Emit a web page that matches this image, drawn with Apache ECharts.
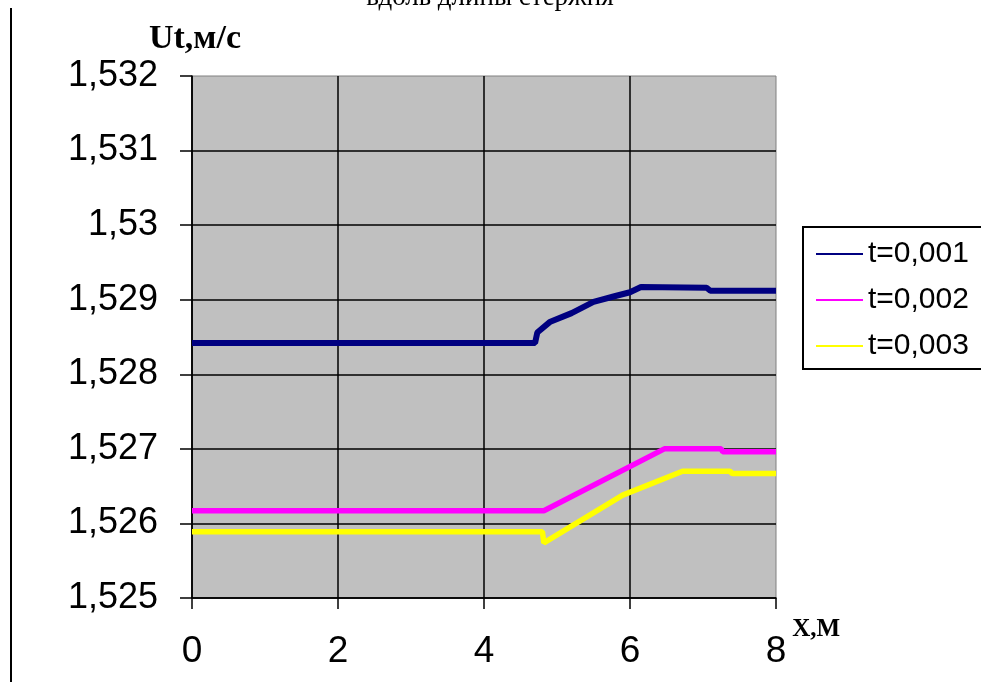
<!DOCTYPE html>
<html>
<head>
<meta charset="utf-8">
<script src="https://cdn.jsdelivr.net/npm/echarts@6/dist/echarts.min.js"></script>
<style>
  html, body { margin: 0; padding: 0; background: #fff; }
  #chart { width: 981px; height: 682px; }
</style>
</head>
<body>
<div id="chart"></div>
<script>
// values
const seriesNames = ['t=0,001', 't=0,002', 't=0,003'];
const xTicks = [0, 2, 4, 6, 8];
const yTicks = [1.525, 1.526, 1.527, 1.528, 1.529, 1.53, 1.531, 1.532];

const xBlue = [0, 4.70, 4.73, 4.9, 5.2, 5.5, 5.8, 6.0, 6.15, 7.05, 7.1, 8];
const yBlue = [1.52842, 1.52842, 1.52856, 1.52870, 1.52882, 1.52897, 1.52905, 1.52910, 1.52917, 1.52916, 1.52912, 1.52912];

const xPink = [0, 4.82, 6.47, 7.25, 7.27, 8];
const yPink = [1.52617, 1.52617, 1.52700, 1.52700, 1.52696, 1.52696];

const xYellow = [0, 4.80, 4.82, 5.9, 6.72, 7.37, 7.4, 8];
const yYellow = [1.52589, 1.52589, 1.52574, 1.52638, 1.52670, 1.52670, 1.52667, 1.52667];

const colors = ['#000080', '#FF00FF', '#FFFF00'];

const pairs = (xs, ys) => xs.map((x, i) => [x, ys[i]]);
const fmt = (v) => parseFloat(v.toFixed(3)).toString().replace('.', ',');

const chart = echarts.init(document.getElementById('chart'));

chart.setOption({
  animation: false,
  backgroundColor: '#fff',
  graphic: [
    {
      type: 'line',
      shape: { x1: 11, y1: 8, x2: 11, y2: 682 },
      style: { stroke: '#000', lineWidth: 2 }
    },
    {
      type: 'text',
      x: 490,
      y: 11,
      style: {
        text: 'вдоль длины стержня',
        font: '27px "Liberation Serif"',
        fill: '#000',
        align: 'center',
        verticalAlign: 'bottom'
      }
    }
  ],
  grid: {
    left: 192,
    right: 205,
    top: 76,
    bottom: 84,
    show: true,
    backgroundColor: '#C0C0C0',
    borderColor: '#808080',
    borderWidth: 1
  },
  legend: {
    orient: 'vertical',
    left: 803,
    top: 227,
    itemWidth: 47,
    itemHeight: 14,
    itemGap: 16,
    padding: [12, 40, 8, 12],
    borderColor: '#000',
    borderWidth: 2,
    lineStyle: { width: 2 },
    itemStyle: { color: 'transparent', borderWidth: 0 },
    textStyle: { fontSize: 30, fontFamily: 'Liberation Sans', color: '#000' },
    data: seriesNames
  },
  xAxis: {
    type: 'value',
    min: xTicks[0],
    max: xTicks[xTicks.length - 1],
    interval: 2,
    name: 'X,M',
    nameLocation: 'end',
    nameGap: 14,
    nameTextStyle: {
      fontFamily: 'Liberation Serif',
      fontWeight: 'bold',
      fontSize: 25,
      color: '#000',
      align: 'left',
      verticalAlign: 'top',
      padding: [19, 0, 0, 0]
    },
    axisLine: { lineStyle: { color: '#000', width: 1.5 } },
    axisTick: { length: 11, lineStyle: { color: '#000', width: 1.5 } },
    axisLabel: { fontSize: 37, fontFamily: 'Liberation Sans', color: '#000', margin: 35 },
    splitLine: { show: true, showMaxLine: false, lineStyle: { color: '#000', width: 1.5 } }
  },
  yAxis: {
    type: 'value',
    min: yTicks[0],
    max: yTicks[yTicks.length - 1],
    interval: 0.001,
    name: 'Ut,м/с',
    nameLocation: 'end',
    nameGap: 37,
    nameTextStyle: {
      fontFamily: 'Liberation Serif',
      fontWeight: 'bold',
      fontSize: 34,
      color: '#000',
      align: 'center',
      verticalAlign: 'middle',
      padding: [0, 0, 0, 6]
    },
    axisLine: { show: true, lineStyle: { color: '#000', width: 1.5 } },
    axisTick: { show: true, length: 12, lineStyle: { color: '#000', width: 1.5 } },
    axisLabel: { fontSize: 36, fontFamily: 'Liberation Sans', color: '#000', margin: 34, formatter: fmt },
    splitLine: { show: true, showMaxLine: false, lineStyle: { color: '#000', width: 1.5 } }
  },
  series: [
    { name: seriesNames[0], type: 'line', symbol: 'none', color: colors[0],
      lineStyle: { width: 6, color: colors[0] }, data: pairs(xBlue, yBlue) },
    { name: seriesNames[1], type: 'line', symbol: 'none', color: colors[1],
      lineStyle: { width: 5.5, color: colors[1] }, data: pairs(xPink, yPink) },
    { name: seriesNames[2], type: 'line', symbol: 'none', color: colors[2],
      lineStyle: { width: 5.5, color: colors[2] }, data: pairs(xYellow, yYellow) }
  ]
});
</script>
</body>
</html>
